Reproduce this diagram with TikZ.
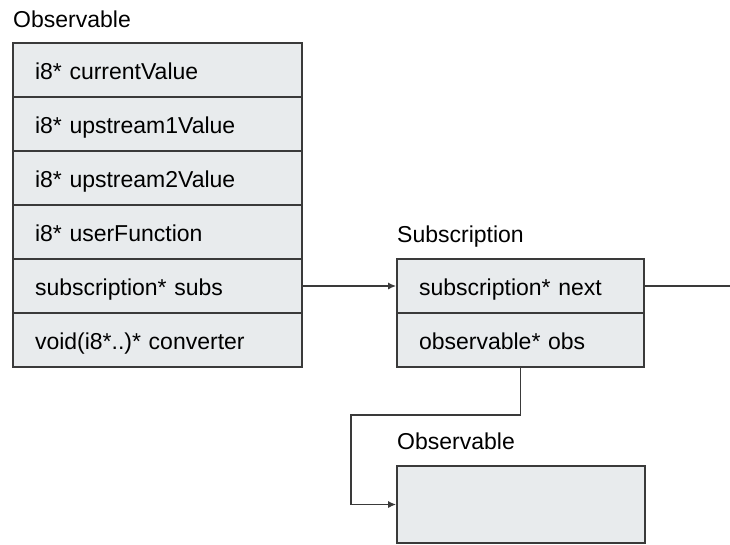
\documentclass[tikz,border=0pt]{standalone}
\usepackage{fontspec}
\setmainfont{Liberation Sans}
\usetikzlibrary{arrows.meta}

\definecolor{fieldfill}{HTML}{E8EBED}
\definecolor{linegray}{HTML}{3A3A3A}
\newcommand{\fieldfont}{\fontsize{23}{27}\selectfont}

\begin{document}
\begin{tikzpicture}[
        x=1pt, y=-1pt,
        field/.style={
            rectangle,
            draw=linegray,
            line width=1.6pt,
            fill=fieldfill,
            align=left,
            text width=245pt,
            text height=21pt,
            text depth=2pt,
            minimum height=54pt,
            inner xsep=22pt,
            inner ysep=0pt,
            font=\fieldfont
        },
        subfield/.style={
            field,
            text width=203pt
        },
        title/.style={
            inner sep=0pt,
            anchor=base west,
            font=\fieldfont
        },
        link/.style={
            draw=linegray,
            line width=1.6pt
        },
        arrow/.style={
            link,
            -{Latex[length=8pt,width=7pt]}
        }
    ]
        \useasboundingbox (0,0) rectangle (730,544);

        % observable struct
        \node[title] (obstitle) at (13,27) {Observable};
        \node[field] (cur) at (157.5,70) {i8* currentValue};
        \node[field] (up1) at (157.5,124) {i8* upstream1Value};
        \node[field] (up2) at (157.5,178) {i8* upstream2Value};
        \node[field] (user) at (157.5,232) {i8* userFunction};
        \node[field] (subs) at (157.5,286) {subscription* subs};
        \node[field] (conv) at (157.5,340) {void(i8*..)* converter};

        % subscription struct
        \node[title] (subtitle) at (397,242) {Subscription};
        \node[subfield] (next) at (520.5,286) {subscription* next};
        \node[subfield] (obs) at (520.5,340) {observable* obs};

        % target observable
        \node[title] (tgttitle) at (397,449) {Observable};
        \node[field, text width=204pt, minimum height=77pt] (target) at (521,504.5) {};

        \coordinate (offright) at (730,286);
        \coordinate (bend) at (351,415);

        \draw[arrow] (subs.east) -- (next.west);
        \draw[link] (next.east) -- (offright);
        \draw[arrow] (obs.south) |- (bend) |- (target.west);

    \end{tikzpicture}
\end{document}
